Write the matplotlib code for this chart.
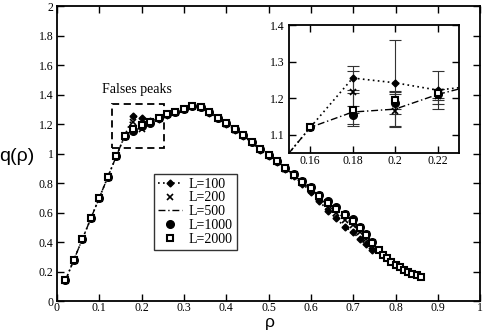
import matplotlib
matplotlib.use("Agg")
import matplotlib.pyplot as plt
from matplotlib.patches import Rectangle

# ---------------- data ----------------
rho = [0.02, 0.04, 0.06, 0.08, 0.10, 0.12, 0.14, 0.16, 0.18, 0.20, 0.22, 0.24,
       0.26, 0.28, 0.30, 0.32, 0.34, 0.36, 0.38, 0.40, 0.42, 0.44, 0.46, 0.48,
       0.50, 0.52, 0.54, 0.56, 0.58, 0.60, 0.62, 0.64, 0.66, 0.68, 0.70, 0.715,
       0.73, 0.745]
q_L100 = [0.14, 0.28, 0.42, 0.56, 0.70, 0.84, 0.98, 1.12, 1.255, 1.242, 1.222, 1.235,
          1.262, 1.282, 1.300, 1.320, 1.314, 1.278, 1.238, 1.200, 1.160, 1.120, 1.075, 1.025,
          0.985, 0.942, 0.893, 0.845, 0.795, 0.741, 0.678, 0.612, 0.560, 0.502, 0.468, 0.418,
          0.386, 0.346]
q_L200 = [0.14, 0.28, 0.42, 0.56, 0.70, 0.84, 0.98, 1.12, 1.217, 1.166, 1.205, 1.238,
          1.264, 1.283, 1.300, 1.321, 1.316, 1.279, 1.239, 1.203, 1.162, 1.123, 1.078, 1.028,
          0.988, 0.947, 0.897, 0.848, 0.798, 0.752, 0.695, 0.640, 0.595, 0.550, 0.515, 0.470,
          0.420, 0.372]
q_L500 = [0.14, 0.28, 0.42, 0.56, 0.70, 0.84, 0.98, 1.12, 1.162, 1.170, 1.210, 1.240,
          1.265, 1.284, 1.300, 1.322, 1.317, 1.280, 1.240, 1.205, 1.164, 1.125, 1.080, 1.030,
          0.990, 0.950, 0.900, 0.852, 0.802, 0.756, 0.700, 0.648, 0.604, 0.560, 0.525, 0.478,
          0.428, 0.380]
q_L1000 = [0.14, 0.28, 0.42, 0.56, 0.70, 0.84, 0.98, 1.12, 1.153, 1.186, 1.210, 1.240,
           1.265, 1.284, 1.300, 1.322, 1.317, 1.280, 1.240, 1.205, 1.164, 1.125, 1.080, 1.030,
           0.990, 0.950, 0.900, 0.858, 0.812, 0.772, 0.722, 0.676, 0.634, 0.592, 0.556, 0.505,
           0.455, 0.398]
rho_L2000 = rho + [0.76, 0.77, 0.78, 0.79, 0.80, 0.81, 0.82, 0.83, 0.84, 0.85, 0.86]
q_L2000 = [0.14, 0.28, 0.42, 0.56, 0.70, 0.84, 0.98, 1.12, 1.168, 1.195, 1.213, 1.240,
           1.265, 1.284, 1.300, 1.322, 1.317, 1.280, 1.240, 1.205, 1.164, 1.125, 1.080, 1.030,
           0.990, 0.950, 0.900, 0.856, 0.807, 0.764, 0.712, 0.665, 0.622, 0.580, 0.545, 0.497,
           0.450, 0.395,
           0.346, 0.315, 0.290, 0.265, 0.245, 0.228, 0.212, 0.198, 0.185, 0.173, 0.160]

# inset error bars (at rho = 0.18, 0.20, 0.22)
rho_err = [0.18, 0.20, 0.22]
q_err_L100 = [1.255, 1.242, 1.222]
e_L100 = [0.032, 0.118, 0.052]
q_err_L200 = [1.217, 1.166, 1.205]
e_L200 = [0.058, 0.045, 0.020]
q_err_L1000 = [1.153, 1.186, 1.210]
e_L1000 = [0.025, 0.030, 0.015]
q_err_L2000 = [1.168, 1.195, 1.213]
e_L2000 = [0.045, 0.025, 0.012]

labels = ["L=100", "L=200", "L=500", "L=1000", "L=2000"]
x_ticks = [0, 0.1, 0.2, 0.3, 0.4, 0.5, 0.6, 0.7, 0.8, 0.9, 1]
y_ticks = [0, 0.2, 0.4, 0.6, 0.8, 1, 1.2, 1.4, 1.6, 1.8, 2]
inset_x_ticks = [0.16, 0.18, 0.2, 0.22]
inset_y_ticks = [1.1, 1.2, 1.3, 1.4]

# ---------------- figure ----------------
serif = ["Liberation Serif", "DejaVu Serif"]
plt.rcParams["font.family"] = serif

fig = plt.figure(figsize=(4.85, 3.34), dpi=100)
ax = fig.add_axes([0.1175, 0.0988, 0.8725, 0.8832])


def draw_series(a, ms_scale=1.0):
    a.plot(rho, q_L500, linestyle=(0, (5, 2, 1, 2)), color="black", lw=1.0,
           label=labels[2], zorder=2)
    a.plot(rho, q_L100, linestyle=(0, (1, 2)), color="black", lw=1.2,
           marker="D", ms=3.5 * ms_scale, mfc="black", mec="black",
           label=labels[0], zorder=3)
    a.plot(rho, q_L200, linestyle="none", marker="x", ms=4.5 * ms_scale,
           mew=1.2, color="black", label=labels[1], zorder=3)
    a.plot(rho, q_L1000, linestyle="none", marker="o", ms=5.5 * ms_scale,
           mfc="black", mec="black", label=labels[3], zorder=4)
    a.plot(rho_L2000, q_L2000, linestyle="none", marker="s", ms=5.0 * ms_scale,
           mfc="white", mec="black", mew=1.5, label=labels[4], zorder=5)


draw_series(ax)

ax.set_xlim(0, 1)
ax.set_ylim(0, 2)
ax.set_xticks(x_ticks)
ax.set_xticklabels(["%g" % v for v in x_ticks])
ax.set_yticks(y_ticks)
ax.set_yticklabels(["%g" % v for v in y_ticks])
ax.tick_params(direction="in", length=5, width=1, top=True, right=True,
               labelsize=8.5)
ax.tick_params(axis="x", pad=0.8)
ax.tick_params(axis="y", pad=2.5)
for s in ax.spines.values():
    s.set_linewidth(1.3)

# x label just below the tick labels (tight glyph box via mathregular)
ax.text(0.503, -0.052, r"$\mathregular{ρ}$", transform=ax.transAxes,
        ha="center", va="top", fontsize=12.5,
        family=["Liberation Sans", "DejaVu Sans"])
ax.set_ylabel("q(ρ)", fontsize=14, family=["Liberation Sans", "DejaVu Sans"],
              rotation=0)
ax.yaxis.set_label_coords(-0.094, 0.49)
ax.yaxis.label.set_ha("center")
ax.yaxis.label.set_va("center")

# legend
handles, labs = ax.get_legend_handles_labels()
hmap = dict(zip(labs, handles))
leg = ax.legend([hmap[l] for l in labels], labels, loc="upper left",
                bbox_to_anchor=(0.229, 0.432), fontsize=10, frameon=True,
                fancybox=False, edgecolor="black", handlelength=1.7,
                handletextpad=0.5, labelspacing=0.05, borderpad=0.3,
                borderaxespad=0)
leg.get_frame().set_linewidth(1.0)

# dashed box + annotation
ax.add_patch(Rectangle((0.131, 1.04), 0.122, 0.295, fill=False,
                       linestyle=(0, (4, 2.5)), lw=1.3, edgecolor="black", zorder=6))
ax.text(0.19, 1.39, "Falses peaks", ha="center", va="bottom", fontsize=10)

# ---------------- inset ----------------
axi = fig.add_axes([0.596, 0.542, 0.35, 0.383])
draw_series(axi, ms_scale=1.0)
for qv, ev in [(q_err_L100, e_L100), (q_err_L200, e_L200),
               (q_err_L1000, e_L1000), (q_err_L2000, e_L2000)]:
    axi.errorbar(rho_err, qv, yerr=ev, fmt="none", ecolor="#333333",
                 elinewidth=0.8, capsize=4, capthick=0.8, zorder=1)
axi.set_xlim(0.15, 0.23)
axi.set_ylim(1.05, 1.4)
axi.set_xticks(inset_x_ticks)
axi.set_xticklabels(["%g" % v for v in inset_x_ticks])
axi.set_yticks(inset_y_ticks)
axi.set_yticklabels(["%g" % v for v in inset_y_ticks])
axi.tick_params(direction="in", length=5, width=1, top=True, right=True,
                labelsize=8.5, pad=3)
axi.tick_params(axis="x", pad=1.5)
for s in axi.spines.values():
    s.set_linewidth(1.3)

fig.savefig("out.png", dpi=100)
